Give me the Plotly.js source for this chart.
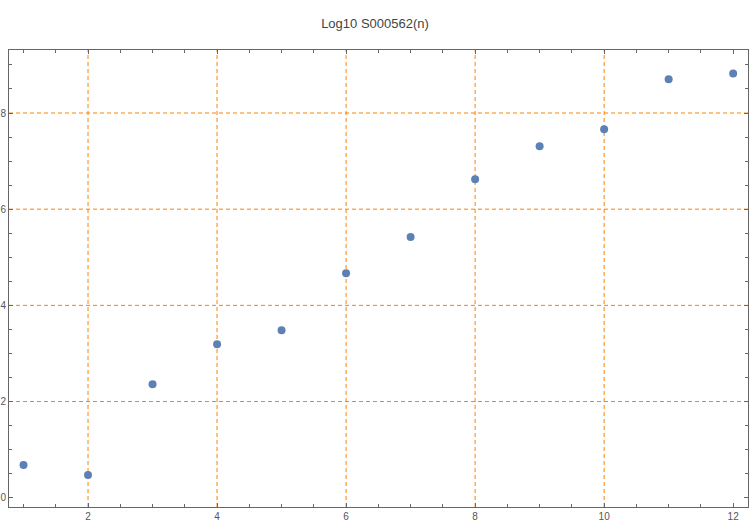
<!DOCTYPE html>
<html>
<head>
<meta charset="utf-8">
<script src="https://cdn.plot.ly/plotly-3.0.1.min.js"></script>
<style>html,body{margin:0;padding:0;background:#fff;}#chart{width:750px;height:525px;}</style>
</head>
<body>
<div id="chart"></div>
<script>
const nValues = [1, 2, 3, 4, 5, 6, 7, 8, 9, 10, 11, 12];
const log10Values = [0.68, 0.47, 2.36, 3.19, 3.48, 4.67, 5.42, 6.62, 7.31, 7.66, 8.70, 8.82];
const xGridValues = [2, 4, 6, 8, 10];
const yGridValues = [2, 4, 6, 8];
const xTickValues = [2, 4, 6, 8, 10, 12];
const yTickValues = [0, 2, 4, 6, 8];
const titleText = "Log10 S000562(n)";

const gridColor = "rgb(255,128,0)";
const shapes = [];
xGridValues.forEach(v => shapes.push({type:'line', xref:'x', yref:'paper', x0:v, x1:v, y0:0, y1:1, layer:'below', line:{color:gridColor, width:1, dash:'4px,3px'}}));
yGridValues.forEach(v => shapes.push({type:'line', xref:'paper', yref:'y', x0:0, x1:1, y0:v, y1:v, layer:'below', line:{color:gridColor, width:1, dash:'4px,3px'}}));

const axisCommon = {
  showline:true, mirror:'ticks', linecolor:'#666', linewidth:1,
  ticks:'inside', ticklen:4, tickcolor:'#666', tickwidth:1,
  showgrid:false, zeroline:false,
  tickfont:{family:'Liberation Sans, Arial, sans-serif', size:10, color:'#555'},
  minor:{dtick:0.5, ticks:'inside', ticklen:3, tickcolor:'#666', showgrid:false}
};

const trace = {
  x: nValues, y: log10Values, type:'scatter', mode:'markers',
  marker:{color:'#5E81B5', size:8}
};

const layout = {
  width:750, height:525,
  margin:{l:9, r:2, t:50, b:18},
  paper_bgcolor:'#fff', plot_bgcolor:'#fff',
  showlegend:false,
  title:{text:titleText, x:0.5, xanchor:'center', y:0.955, yanchor:'middle',
         font:{family:'Liberation Sans, Arial, sans-serif', size:13, color:'#444'}},
  xaxis:Object.assign({}, axisCommon, {range:[0.775, 12.23], tickvals:xTickValues}),
  yaxis:Object.assign({}, axisCommon, {range:[-0.193, 9.31], tickvals:yTickValues}),
  shapes:shapes
};

Plotly.newPlot('chart', [trace], layout, {displayModeBar:false, staticPlot:true});
</script>
</body>
</html>
